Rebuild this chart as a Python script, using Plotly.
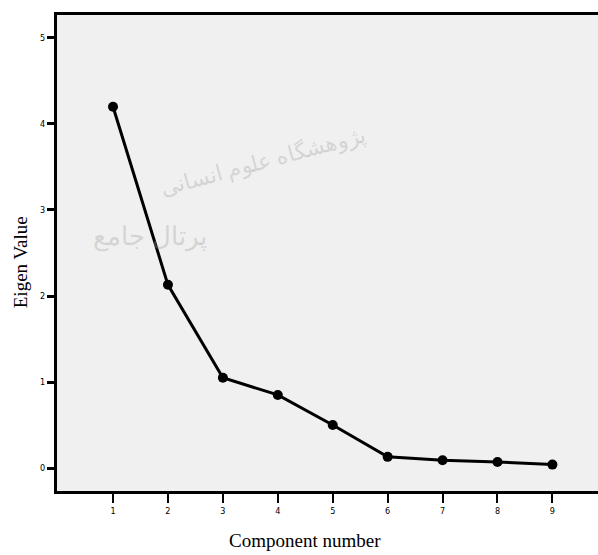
import plotly.graph_objects as go

components = [1, 2, 3, 4, 5, 6, 7, 8, 9]
eigen_values = [4.20, 2.13, 1.05, 0.85, 0.50, 0.13, 0.09, 0.07, 0.04]
x_ticks = [1, 2, 3, 4, 5, 6, 7, 8, 9]
y_ticks = [0, 1, 2, 3, 4, 5]

fig = go.Figure()
fig.add_trace(go.Scatter(
    x=components, y=eigen_values, mode="lines+markers",
    line=dict(color="black", width=3),
    marker=dict(color="black", size=10, symbol="circle"),
    showlegend=False, hoverinfo="skip"))

tickfont = dict(family="DejaVu Sans Condensed, Liberation Sans", size=9, color="black")
fig.update_layout(
    width=598, height=555,
    margin=dict(l=57, r=0, t=15, b=64),
    paper_bgcolor="white", plot_bgcolor="#f0f0f0",
    xaxis=dict(range=[-0.02, 9.83], tickvals=x_ticks, ticks="outside",
               ticklen=9, tickwidth=2, tickcolor="black", showgrid=False,
               zeroline=False, showline=True, linecolor="black", linewidth=3,
               mirror=True, tickfont=tickfont),
    yaxis=dict(range=[-0.267, 5.267], tickvals=y_ticks, ticks="outside",
               ticklen=7, tickwidth=3, tickcolor="black", showgrid=False,
               zeroline=False, showline=True, linecolor="black", linewidth=3,
               tickfont=tickfont),
    annotations=[
        dict(text="Component number", xref="paper", yref="paper",
             x=0.458, y=-0.103, xanchor="center", yanchor="middle", showarrow=False,
             font=dict(family="Liberation Serif", size=19, color="black")),
        dict(text="Eigen Value", xref="paper", yref="paper",
             x=-0.068, y=0.481, xanchor="center", yanchor="middle", showarrow=False,
             textangle=-90,
             font=dict(family="Liberation Serif", size=19, color="black")),
        dict(text="پژوهشگاه علوم انسانی", xref="paper", yref="paper",
             x=0.379, y=0.695, xanchor="center", yanchor="middle", showarrow=False,
             textangle=-15,
             font=dict(family="Noto Sans", size=22, color="rgba(160,160,160,0.35)")),
        dict(text="پرتال جامع", xref="paper", yref="paper",
             x=0.172, y=0.538, xanchor="center", yanchor="middle", showarrow=False,
             font=dict(family="Noto Sans", size=26, color="rgba(160,160,160,0.35)")),
    ],
)
fig.write_html("out.html", config={"displayModeBar": False},
               post_script="document.body.style.margin='0';")
